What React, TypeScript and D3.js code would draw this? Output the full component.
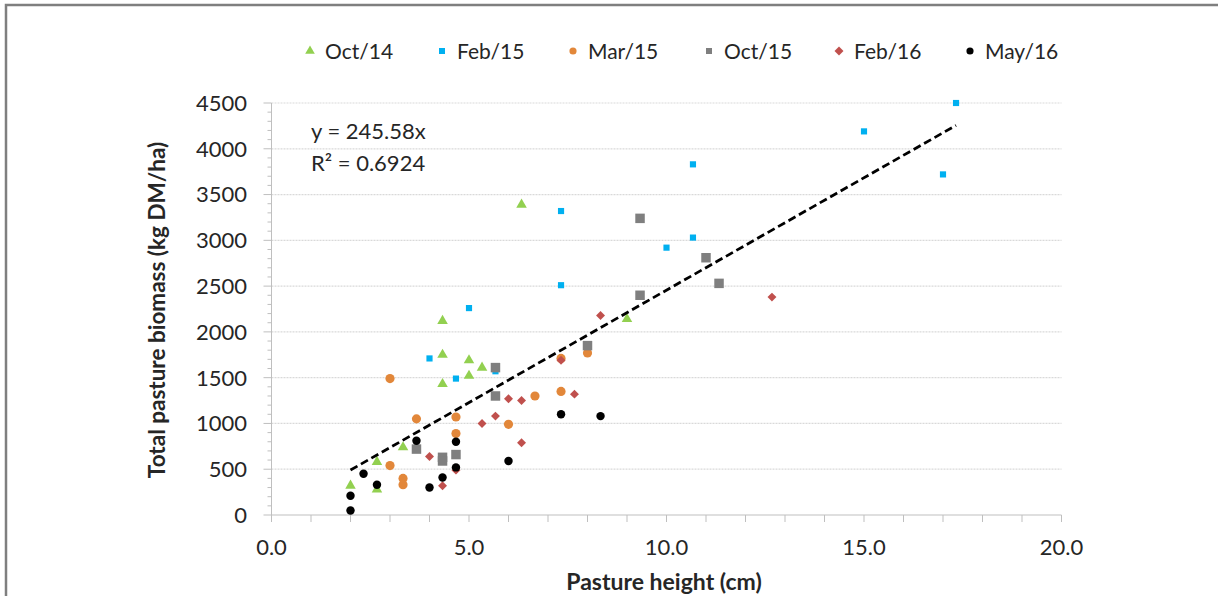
import React, { useRef, useEffect } from 'react';
import * as d3 from 'd3';

// pasture height (cm) / total biomass (kg DM/ha), one pair of arrays per survey
const oct14X = [2.0, 2.67, 2.67, 3.33, 4.33, 4.33, 4.33, 5.0, 5.0, 5.33, 6.33, 9.0];
const oct14Y = [320, 280, 580, 740, 1430, 1750, 2120, 1520, 1690, 1610, 3390, 2140];

const feb15X = [4.0, 4.67, 5.0, 5.67, 7.33, 7.33, 10.0, 10.67, 10.67, 15.0, 17.0, 17.33];
const feb15Y = [1710, 1490, 2260, 1570, 2510, 3320, 2920, 3030, 3830, 4190, 3720, 4500];

const mar15X = [3.0, 3.0, 3.33, 3.33, 3.67, 4.67, 4.67, 6.0, 6.67, 7.33, 7.33, 8.0];
const mar15Y = [1490, 540, 400, 330, 1050, 1070, 890, 990, 1300, 1710, 1350, 1770];

const oct15X = [3.67, 4.33, 4.33, 4.67, 5.67, 5.67, 8.0, 9.33, 9.33, 11.0, 11.33];
const oct15Y = [720, 630, 590, 660, 1610, 1300, 1850, 2400, 3240, 2810, 2530];

const feb16X = [4.0, 4.33, 4.67, 5.33, 5.67, 6.0, 6.33, 6.33, 7.33, 7.67, 8.33, 12.67];
const feb16Y = [640, 320, 490, 1000, 1080, 1270, 1250, 790, 1690, 1320, 2180, 2380];

const may16X = [2.0, 2.0, 2.33, 2.67, 3.67, 4.0, 4.33, 4.67, 4.67, 6.0, 7.33, 8.33];
const may16Y = [50, 210, 450, 330, 810, 300, 410, 800, 520, 590, 1100, 1080];

const seriesNames = ['Oct/14', 'Feb/15', 'Mar/15', 'Oct/15', 'Feb/16', 'May/16'];
const trendSlope = 245.58;
const trendRange = [2.0, 17.33];
const equationLines = ['y = 245.58x', 'R² = 0.6924'];
const yTicks = [0, 500, 1000, 1500, 2000, 2500, 3000, 3500, 4000, 4500];
const xTicks = [0, 5, 10, 15, 20];

const FONT = 'Lato, "Open Sans", sans-serif';

const App = () => {
    const svgRef = useRef(null);

    const totalWidth = 1218;
    const totalHeight = 596;
    const plot = { left: 271.5, right: 1061.5, top: 103, bottom: 515 };

    const series = [
        { name: seriesNames[0], xs: oct14X, ys: oct14Y, shape: 'triangle', color: '#92D050', size: 48 },
        { name: seriesNames[1], xs: feb15X, ys: feb15Y, shape: 'square', color: '#00B0F0', size: 38 },
        { name: seriesNames[2], xs: mar15X, ys: mar15Y, shape: 'circle', color: '#E2873A', size: 66 },
        { name: seriesNames[3], xs: oct15X, ys: oct15Y, shape: 'square', color: '#7F7F7F', size: 90 },
        { name: seriesNames[4], xs: feb16X, ys: feb16Y, shape: 'diamond', color: '#C0504D', size: 40 },
        { name: seriesNames[5], xs: may16X, ys: may16Y, shape: 'circle', color: '#000000', size: 56 },
    ];

    const symbolFor = (shape) => {
        if (shape === 'triangle') return d3.symbolTriangle;
        if (shape === 'circle') return d3.symbolCircle;
        return d3.symbolSquare;
    };

    useEffect(() => {
        const svg = d3.select(svgRef.current);
        svg.selectAll('*').remove();

        const x = d3.scaleLinear().domain([0, 20]).range([plot.left, plot.right]);
        const y = d3.scaleLinear().domain([0, 4500]).range([plot.bottom, plot.top]);

        // frame
        svg.append('path')
            .attr('d', `M6,${totalHeight} L6,5 L${totalWidth},5`)
            .attr('fill', 'none')
            .attr('stroke', '#7F7F7F')
            .attr('stroke-width', 2.5);

        // gridlines
        svg.append('g')
            .selectAll('line')
            .data(yTicks.filter(d => d > 0))
            .enter()
            .append('line')
            .attr('x1', plot.left)
            .attr('x2', plot.right)
            .attr('y1', d => y(d))
            .attr('y2', d => y(d))
            .attr('stroke', '#D9D9D9')
            .attr('stroke-width', 1.2)
            .attr('stroke-dasharray', '2,1');

        // y axis: minor ticks every 100
        const yAxisG = svg.append('g');
        yAxisG.selectAll('line.minor')
            .data(d3.range(0, 4501, 100))
            .enter()
            .append('line')
            .attr('x1', d => (d % 500 === 0 ? plot.left - 8 : plot.left - 4))
            .attr('x2', plot.left)
            .attr('y1', d => y(d))
            .attr('y2', d => y(d))
            .attr('stroke', '#BFBFBF')
            .attr('stroke-width', 1);
        yAxisG.append('line')
            .attr('x1', plot.left).attr('x2', plot.left)
            .attr('y1', plot.top).attr('y2', plot.bottom)
            .attr('stroke', '#BFBFBF');
        yAxisG.selectAll('text')
            .data(yTicks)
            .enter()
            .append('text')
            .attr('x', 247)
            .attr('y', d => y(d))
            .attr('dy', '0.36em')
            .attr('text-anchor', 'end')
            .style('font-family', FONT)
            .style('font-size', '22px')
            .style('fill', '#262626')
            .text(d => d);

        // x axis: ticks every 1 cm
        const xAxisG = svg.append('g');
        xAxisG.append('line')
            .attr('x1', plot.left).attr('x2', plot.right)
            .attr('y1', plot.bottom).attr('y2', plot.bottom)
            .attr('stroke', '#BFBFBF');
        xAxisG.selectAll('line.tick')
            .data(d3.range(0, 21, 1))
            .enter()
            .append('line')
            .attr('x1', d => x(d))
            .attr('x2', d => x(d))
            .attr('y1', plot.bottom)
            .attr('y2', plot.bottom + 7)
            .attr('stroke', '#BFBFBF');
        xAxisG.selectAll('text')
            .data(xTicks)
            .enter()
            .append('text')
            .attr('x', d => x(d))
            .attr('y', 555)
            .attr('text-anchor', 'middle')
            .style('font-family', FONT)
            .style('font-size', '22px')
            .style('fill', '#262626')
            .text(d => d3.format('.1f')(d));

        // axis titles
        svg.append('text')
            .attr('x', 664)
            .attr('y', 590)
            .attr('text-anchor', 'middle')
            .style('font-family', FONT)
            .style('font-size', '23px')
            .style('font-weight', 'bold')
            .style('fill', '#262626')
            .text('Pasture height (cm)');

        svg.append('text')
            .attr('transform', 'translate(165, 310) rotate(-90)')
            .attr('text-anchor', 'middle')
            .style('font-family', FONT)
            .style('font-size', '22.5px')
            .style('font-weight', 'bold')
            .style('fill', '#262626')
            .text('Total pasture biomass (kg DM/ha)');

        // markers
        series.forEach(s => {
            const sym = d3.symbol().type(symbolFor(s.shape)).size(s.size);
            svg.append('g')
                .selectAll('path')
                .data(s.xs.map((v, i) => [v, s.ys[i]]))
                .enter()
                .append('path')
                .attr('d', sym)
                .attr('transform', d => `translate(${x(d[0])},${y(d[1])})${s.shape === 'diamond' ? ' rotate(45)' : ''}`)
                .attr('fill', s.color);
        });

        // trend line
        svg.append('line')
            .attr('x1', x(trendRange[0]))
            .attr('y1', y(trendSlope * trendRange[0]))
            .attr('x2', x(trendRange[1]))
            .attr('y2', y(trendSlope * trendRange[1]))
            .attr('stroke', '#000')
            .attr('stroke-width', 2.75)
            .attr('stroke-dasharray', '8,4');

        // equation
        svg.append('g')
            .selectAll('text')
            .data(equationLines)
            .enter()
            .append('text')
            .attr('x', 311)
            .attr('y', (d, i) => 139 + i * 32)
            .style('font-family', FONT)
            .style('font-size', '22px')
            .style('fill', '#262626')
            .text(d => d);

        // legend
        const legendX = [310, 442, 573, 709, 839, 970];
        const legend = svg.append('g');
        const item = legend.selectAll('g')
            .data(series)
            .enter()
            .append('g')
            .attr('transform', (d, i) => `translate(${legendX[i]}, 51)`);
        item.append('path')
            .attr('d', d => d3.symbol().type(symbolFor(d.shape)).size(d.shape === 'square' ? 36 : 40)())
            .attr('transform', d => (d.shape === 'diamond' ? 'rotate(45)' : ''))
            .attr('fill', d => d.color);
        item.append('text')
            .attr('x', 15)
            .attr('dy', '0.36em')
            .style('font-family', FONT)
            .style('font-size', '21px')
            .style('fill', '#262626')
            .text(d => d.name);
    }, []);

    return (
        <div style={{ width: totalWidth, height: totalHeight }}>
            <style>{'body { margin: 0; }'}</style>
            <svg ref={svgRef} width={totalWidth} height={totalHeight} style={{ display: 'block', background: '#fff' }}></svg>
        </div>
    );
};

export default App;
